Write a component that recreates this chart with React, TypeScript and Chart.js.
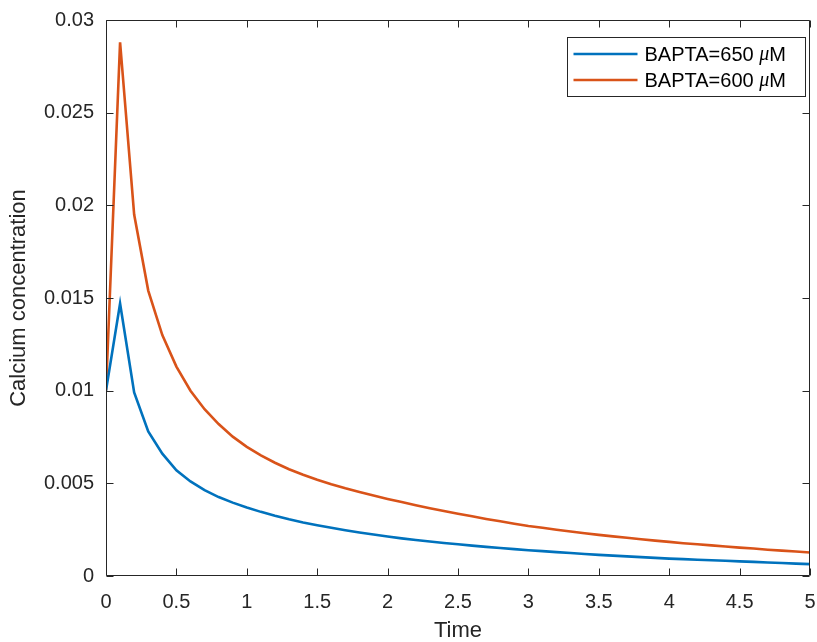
import React, { useEffect, useRef } from "react";
import { Chart, registerables } from "chart.js";

Chart.register(...registerables);

const times = [
  0, 0.1, 0.2, 0.3, 0.4, 0.5, 0.6, 0.7, 0.8, 0.9,
  1.0, 1.1, 1.2, 1.3, 1.4, 1.5, 1.6, 1.7, 1.8, 1.9,
  2.0, 2.1, 2.2, 2.3, 2.4, 2.5, 2.6, 2.7, 2.8, 2.9,
  3.0, 3.1, 3.2, 3.3, 3.4, 3.5, 3.6, 3.7, 3.8, 3.9,
  4.0, 4.1, 4.2, 4.3, 4.4, 4.5, 4.6, 4.7, 4.8, 4.9,
  5.0,
];

const bapta650 = [
  0.0100, 0.0147, 0.0099, 0.0078, 0.0066, 0.0057, 0.00510, 0.00463, 0.00426, 0.00396,
  0.00370, 0.00346, 0.00325, 0.00306, 0.00289, 0.00274, 0.00260, 0.00247, 0.00235, 0.00224,
  0.00213, 0.00203, 0.00194, 0.00186, 0.00178, 0.00171, 0.00164, 0.00157, 0.00151, 0.00145,
  0.00139, 0.00134, 0.00129, 0.00124, 0.00119, 0.00114, 0.00110, 0.00106, 0.00102, 0.00098,
  0.00094, 0.00091, 0.00088, 0.00085, 0.00082, 0.00079, 0.00076, 0.00073, 0.00070, 0.00067,
  0.00064,
];

const bapta600 = [
  0.0100, 0.0288, 0.0195, 0.0154, 0.0130, 0.0113, 0.0100, 0.0090, 0.00820, 0.00752,
  0.00697, 0.00651, 0.00611, 0.00576, 0.00546, 0.00519, 0.00495, 0.00473, 0.00453, 0.00434,
  0.00416, 0.00399, 0.00382, 0.00366, 0.00351, 0.00336, 0.00322, 0.00308, 0.00295, 0.00282,
  0.00270, 0.00260, 0.00250, 0.00240, 0.00231, 0.00222, 0.00214, 0.00206, 0.00198, 0.00191,
  0.00184, 0.00177, 0.00171, 0.00165, 0.00159, 0.00153, 0.00148, 0.00142, 0.00137, 0.00132,
  0.00127,
];

const seriesLabels = ["BAPTA=650 μM", "BAPTA=600 μM"];
const seriesColors = ["#0072BD", "#D95319"];

const xTicks = [0, 0.5, 1, 1.5, 2, 2.5, 3, 3.5, 4, 4.5, 5];
const xTickLabels = ["0", "0.5", "1", "1.5", "2", "2.5", "3", "3.5", "4", "4.5", "5"];
const yTicks = [0, 0.005, 0.01, 0.015, 0.02, 0.025, 0.03];
const yTickLabels = ["0", "0.005", "0.01", "0.015", "0.02", "0.025", "0.03"];

const xTitle = "Time";
const yTitle = "Calcium concentration";

const AXIS_COLOR = "#262626";
const SANS = "'Liberation Sans', Arial, Helvetica, sans-serif";

const matlabAxesPlugin = {
  id: "matlabAxes",
  afterDraw(chart: any) {
    const { ctx, chartArea } = chart;
    const xs = chart.scales.x;
    const ys = chart.scales.y;
    const L = Math.round(chartArea.left) + 0.5;
    const R = Math.round(chartArea.right) - 0.5;
    const T = Math.round(chartArea.top) + 0.5;
    const B = Math.round(chartArea.bottom) - 0.5;
    const tl = 7;
    ctx.save();
    ctx.strokeStyle = AXIS_COLOR;
    ctx.lineWidth = 1;
    ctx.beginPath();
    ctx.rect(L, T, R - L, B - T);
    ctx.stroke();
    ctx.beginPath();
    xTicks.forEach((v) => {
      const px = Math.round(xs.getPixelForValue(v)) + 0.5;
      ctx.moveTo(px, B);
      ctx.lineTo(px, B - tl);
      ctx.moveTo(px, T);
      ctx.lineTo(px, T + tl);
    });
    yTicks.forEach((v) => {
      const py = Math.round(ys.getPixelForValue(v)) + 0.5;
      ctx.moveTo(L, py);
      ctx.lineTo(L + tl, py);
      ctx.moveTo(R, py);
      ctx.lineTo(R - tl, py);
    });
    ctx.stroke();

    // legend box (MATLAB-style, top right inside axes)
    const boxW = 238;
    const boxH = 59;
    const boxX = Math.round(chartArea.right) - 5 - boxW + 0.5;
    const boxY = Math.round(chartArea.top) + 17 + 0.5;
    ctx.fillStyle = "#ffffff";
    ctx.fillRect(boxX, boxY, boxW, boxH);
    ctx.strokeStyle = AXIS_COLOR;
    ctx.lineWidth = 1;
    ctx.strokeRect(boxX, boxY, boxW, boxH);
    const rowH = 26;
    chart.data.datasets.forEach((ds: any, i: number) => {
      const cy = boxY + 16.5 + i * rowH;
      ctx.strokeStyle = ds.borderColor;
      ctx.lineWidth = 2.6;
      ctx.beginPath();
      ctx.moveTo(boxX + 6, cy);
      ctx.lineTo(boxX + 70, cy);
      ctx.stroke();
      ctx.fillStyle = "#000000";
      ctx.textBaseline = "middle";
      ctx.textAlign = "left";
      const label: string = ds.label;
      const idx = label.indexOf("μ");
      const parts =
        idx >= 0
          ? [
              { t: label.slice(0, idx), f: `20px ${SANS}` },
              { t: "μ", f: `italic 20px 'Liberation Serif', 'DejaVu Serif', serif` },
              { t: label.slice(idx + 1), f: `20px ${SANS}` },
            ]
          : [{ t: label, f: `20px ${SANS}` }];
      let tx = boxX + 77;
      parts.forEach((p) => {
        ctx.font = p.f;
        ctx.fillText(p.t, tx, cy + 1);
        tx += ctx.measureText(p.t).width;
      });
    });
    ctx.restore();
  },
};

export default function App() {
  const canvasRef = useRef<HTMLCanvasElement | null>(null);

  useEffect(() => {
    if (!canvasRef.current) return;
    const series = [bapta650, bapta600];
    const chart = new Chart(canvasRef.current, {
      type: "line",
      data: {
        datasets: series.map((vals, i) => ({
          label: seriesLabels[i],
          data: times.map((t, j) => ({ x: t, y: vals[j] })),
          borderColor: seriesColors[i],
          backgroundColor: seriesColors[i],
          borderWidth: 2.6,
          pointRadius: 0,
          tension: 0,
          fill: false,
        })),
      },
      options: {
        animation: false,
        responsive: false,
        devicePixelRatio: 1,
        layout: { padding: { left: 0, right: 7, top: 20, bottom: 0 } },
        plugins: {
          legend: { display: false },
          tooltip: { enabled: false },
        },
        scales: {
          x: {
            type: "linear",
            min: 0,
            max: 5,
            grid: { display: false, drawTicks: false },
            border: { display: false },
            afterBuildTicks: (scale: any) => {
              scale.ticks = xTicks.map((v) => ({ value: v }));
            },
            afterFit: (scale: any) => {
              scale.height = 66;
              scale.paddingLeft = 0;
              scale.paddingRight = 0;
            },
            ticks: {
              autoSkip: false,
              maxRotation: 0,
              padding: 14,
              color: AXIS_COLOR,
              font: { family: SANS, size: 20 },
              callback: (v: any) => {
                const k = xTicks.indexOf(Number(v));
                return k >= 0 ? xTickLabels[k] : "";
              },
            },
            title: {
              display: true,
              text: xTitle,
              color: AXIS_COLOR,
              font: { family: SANS, size: 22 },
              padding: { top: 0, bottom: -2 },
            },
          },
          y: {
            type: "linear",
            min: 0,
            max: 0.03,
            grid: { display: false, drawTicks: false },
            border: { display: false },
            afterBuildTicks: (scale: any) => {
              scale.ticks = yTicks.map((v) => ({ value: v }));
            },
            afterFit: (scale: any) => {
              scale.width = 106;
              scale.paddingTop = 0;
              scale.paddingBottom = 0;
            },
            ticks: {
              autoSkip: false,
              padding: 12,
              color: AXIS_COLOR,
              font: { family: SANS, size: 20 },
              callback: (v: any) => {
                const k = yTicks.findIndex((t) => Math.abs(t - Number(v)) < 1e-9);
                return k >= 0 ? yTickLabels[k] : "";
              },
            },
            title: {
              display: true,
              text: yTitle,
              color: AXIS_COLOR,
              font: { family: SANS, size: 22 },
              padding: { top: 6, bottom: 0 },
            },
          },
        },
      },
      plugins: [matlabAxesPlugin],
    });
    return () => chart.destroy();
  }, []);

  return (
    <div style={{ position: "absolute", left: 0, top: 0, width: 817, height: 642, background: "#ffffff" }}>
      <canvas ref={canvasRef} width={817} height={642} style={{ display: "block" }} />
    </div>
  );
}
